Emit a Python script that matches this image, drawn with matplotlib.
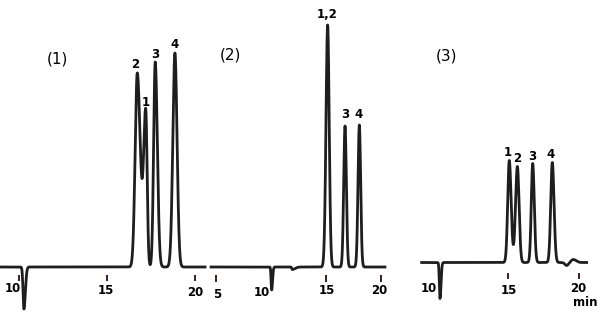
import numpy as np
import matplotlib
matplotlib.use("Agg")
import matplotlib.pyplot as plt

# ---- chromatogram (1) : retention time (min), height, left/right peak width
c1_range  = (8.92, 20.57)
c1_rt     = [10.28, 16.72, 17.20, 17.74, 18.86]
c1_height = [-42, 194, 155, 205, 214]
c1_sig_l  = [0.05, 0.12, 0.12, 0.09, 0.12]
c1_sig_r  = [0.08, 0.17, 0.08, 0.12, 0.12]
c1_peak_names = ["2", "1", "3", "4"]
c1_name_pos   = [(16.59, 202), (17.22, 165), (17.73, 212), (18.86, 223)]
c1_ticks      = [10, 15, 20]
c1_tick_text  = [("10", 9.64, -22), ("15", 14.94, -23), ("20", 20.0, -26)]

# ---- chromatogram (2)
c2_range  = (4.55, 20.36)
c2_rt     = [10.06, 11.94, 15.15, 16.73, 18.03]
c2_height = [-23, -2.5, 242, 141, 142]
c2_sig_l  = [0.05, 0.05, 0.15, 0.12, 0.12]
c2_sig_r  = [0.08, 0.25, 0.14, 0.12, 0.12]
c2_peak_names = ["1,2", "3", "4"]
c2_name_pos   = [(15.09, 252), (16.73, 152), (18.0, 152)]
c2_ticks      = [5, 15, 20]
c2_tick_text  = [("5", 5.15, -27), ("10", 9.15, -26), ("15", 15.06, -24), ("20", 19.82, -24)]

# ---- chromatogram (3)
c3_range  = (8.92, 20.54)
c3_rt     = [10.21, 15.09, 15.66, 16.74, 18.12, 19.13, 19.60]
c3_height = [-36, 102, 96, 99, 100, -3, 3]
c3_sig_l  = [0.045, 0.11, 0.13, 0.10, 0.11, 0.12, 0.15]
c3_sig_r  = [0.07, 0.13, 0.12, 0.11, 0.12, 0.12, 0.20]
c3_peak_names = ["1", "2", "3", "4"]
c3_name_pos   = [(15.0, 110.5), (15.63, 104.5), (16.69, 105.5), (18.03, 107.5)]
c3_ticks      = [15, 20]
c3_tick_text  = [("10", 9.44, -26), ("15", 15.07, -27.5), ("20", 19.95, -26), ("min", 20.42, -40)]

W, H = 610, 326
LINE = "#1e1e1e"


def trace(t, rt, height, sl, sr):
    y = np.zeros_like(t)
    for r, h, a, b in zip(rt, height, sl, sr):
        s = np.where(t < r, a, b)
        y += h * np.exp(-0.5 * ((t - r) / s) ** 2)
    return y


def panel(fig, px0, px1, pref, tref, scale, base, title, title_pos,
          trange, rt, height, sl, sr, names, name_pos, ticks, tick_lo, tick_text):
    ax = fig.add_axes([px0 / W, 0, (px1 - px0) / W, 1])
    ax.set_xlim(tref + (px0 - pref) / scale, tref + (px1 - pref) / scale)
    ax.set_ylim(-(H - base), base)
    ax.axis("off")
    t = np.linspace(trange[0], trange[1], 4000)
    ax.plot(t, trace(t, rt, height, sl, sr), color=LINE, lw=2.0,
            solid_joinstyle="round")
    ax.vlines(ticks, tick_lo[0], tick_lo[1], color="#3a2020", lw=1.4)
    for s, (x, y) in zip(names, name_pos):
        ax.text(x, y, s, ha="center", va="center", fontsize=8.5,
                fontweight="bold", color="black")
    for s, x, y in tick_text:
        ax.text(x, y, s, ha="center", va="center", fontsize=8.5,
                fontweight="bold", color="black")
    ax.text(title_pos[0], title_pos[1], title, ha="center", va="center",
            fontsize=11, color="black")
    return ax


fig = plt.figure(figsize=(W / 100, H / 100), dpi=100)

panel(fig, 0, 210, 19, 10, 17.6, 267, "(1)", (12.16, 208),
      c1_range, c1_rt, c1_height, c1_sig_l, c1_sig_r,
      c1_peak_names, c1_name_pos, c1_ticks, (-8, -14), c1_tick_text)
panel(fig, 205, 410, 326, 15, 11.0, 267, "(2)", (6.27, 212),
      c2_range, c2_rt, c2_height, c2_sig_l, c2_sig_r,
      c2_peak_names, c2_name_pos, c2_ticks, (-8, -15), c2_tick_text)
panel(fig, 410, 610, 508, 15, 14.2, 262.5, "(3)", (10.70, 206.5),
      c3_range, c3_rt, c3_height, c3_sig_l, c3_sig_r,
      c3_peak_names, c3_name_pos, c3_ticks, (-10, -16), c3_tick_text)

fig.savefig("out.png", dpi=100, facecolor="white")
